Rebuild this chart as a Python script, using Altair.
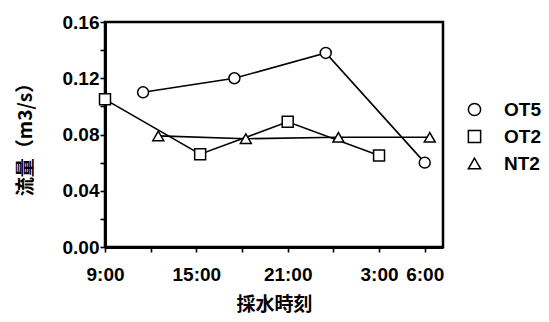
import altair as alt
import pandas as pd

# Hours elapsed since 9:00 (sampling time)
series_names = ["OT5", "OT2", "NT2"]
ot5_hours = [2.5, 8.5, 14.5, 21.0]
ot5_flow = [0.110, 0.120, 0.138, 0.060]
ot2_hours = [0.0, 6.25, 12.0, 18.0]
ot2_flow = [0.105, 0.066, 0.089, 0.065]
nt2_hours = [3.5, 9.25, 15.33, 21.33]
nt2_flow = [0.079, 0.077, 0.078, 0.078]

x_tick_values = [0, 3, 6, 9, 12, 15, 18, 21]
x_label_hours = [0, 6, 12, 18, 21]
x_label_texts = ["9:00", "15:00", "21:00", "3:00", "6:00"]
y_tick_values = [0.0, 0.02, 0.04, 0.06, 0.08, 0.10, 0.12, 0.14, 0.16]

rows = []
for name, hs, vs in zip(series_names, [ot5_hours, ot2_hours, nt2_hours], [ot5_flow, ot2_flow, nt2_flow]):
    for h, v in zip(hs, vs):
        rows.append({"series": name, "hour": h, "flow": v})
df = pd.DataFrame(rows)

x_label_expr = "".join(
    f"datum.value == {h} ? '{t}' : " for h, t in zip(x_label_hours, x_label_texts)
) + "''"

LATIN = "Liberation Sans, Noto Sans CJK JP"
CJK = "Noto Sans CJK JP"

common_axis = dict(
    domainColor="#000000",
    domainWidth=3,
    tickColor="#000000",
    tickWidth=1.6,
    tickSize=5,
    labelColor="#000000",
    titleColor="#000000",
    grid=False,
    labelOverlap=False,
    labelFont=LATIN,
    labelFontSize=19,
    labelFontWeight="bold",
    titleFont=CJK,
    titleFontSize=19,
    titleFontWeight="bold",
    titleAlign="center",
    titleBaseline="middle",
)

x_enc = alt.X(
    "hour:Q",
    scale=alt.Scale(domain=[0, 22.2], nice=False, zero=False),
    axis=alt.Axis(
        values=x_tick_values,
        labelExpr=x_label_expr,
        title="採水時刻",
        titleX=169,
        titleY=57,
        labelPadding=13,
        labelFlush=False,
        **common_axis,
    ),
)
y_enc = alt.Y(
    "flow:Q",
    scale=alt.Scale(domain=[0, 0.16], nice=False),
    axis=alt.Axis(
        values=y_tick_values,
        labelExpr="round(datum.value * 100) % 4 == 0 ? format(datum.value, '.2f') : ''",
        title="流量（m3/s）",
        titleX=-80,
        titleY=112.5,
        titleAngle=270,
        labelPadding=1,
        labelBaseline="middle",
        **common_axis,
    ),
)

legend = alt.Legend(
    title=None,
    orient="none",
    legendX=360,
    legendY=78,
    labelFont=LATIN,
    labelFontSize=19,
    labelFontWeight="bold",
    labelColor="#000000",
    labelOffset=20,
    rowPadding=7,
    symbolSize=150,
    symbolStrokeWidth=1.5,
)

base = alt.Chart(df)

lines = base.mark_line(color="#000000", strokeWidth=1.6).encode(
    x=x_enc, y=y_enc, detail="series:N"
)
points = base.mark_point(filled=True, strokeWidth=1.5, size=120, opacity=1).encode(
    x=x_enc,
    y=y_enc,
    shape=alt.Shape(
        "series:N",
        scale=alt.Scale(domain=series_names, range=["circle", "square", "triangle-up"]),
        legend=legend,
    ),
    stroke=alt.Stroke(
        "series:N",
        scale=alt.Scale(domain=series_names, range=["#000000", "#000000", "#000000"]),
        legend=legend,
    ),
    fill=alt.value("#ffffff"),
)

chart = alt.layer(lines, points).properties(
    width=338,
    height=225,
    autosize=alt.AutoSizeParams(type="none"),
    padding={"left": 97, "top": 14, "right": 98, "bottom": 67},
    background="#ffffff",
    view=alt.ViewBackground(stroke="#000000", strokeWidth=2.5),
)

chart.save("out.html", embed_options={"renderer": "svg", "actions": False})
